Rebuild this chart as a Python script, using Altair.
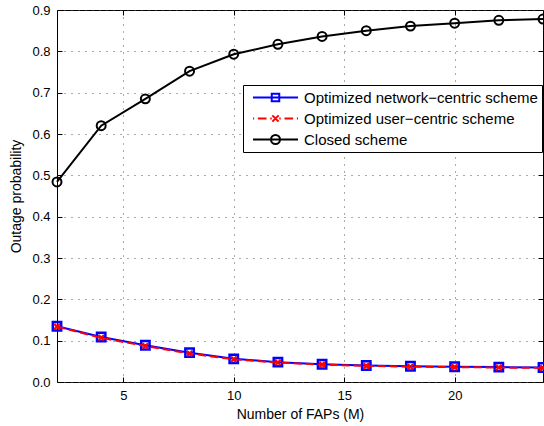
import altair as alt
import pandas as pd

x_vals = [2, 4, 6, 8, 10, 12, 14, 16, 18, 20, 22, 24]
network_centric = [0.135, 0.109, 0.089, 0.071, 0.056, 0.048, 0.043, 0.040, 0.038, 0.037, 0.036, 0.035]
user_centric = [0.134, 0.107, 0.087, 0.069, 0.055, 0.047, 0.042, 0.039, 0.037, 0.036, 0.035, 0.034]
closed = [0.484, 0.620, 0.685, 0.752, 0.793, 0.817, 0.836, 0.850, 0.861, 0.868, 0.875, 0.878]

series_names = ["Optimized network\u2212centric scheme",
                "Optimized user\u2212centric scheme",
                "Closed scheme"]
series_colors = ["#0000ff", "#ff0000", "#000000"]
x_ticks = [5, 10, 15, 20]
y_ticks = [0, 0.1, 0.2, 0.3, 0.4, 0.5, 0.6, 0.7, 0.8, 0.9]

df = pd.DataFrame({
    "M": x_vals * 3,
    "p": network_centric + user_centric + closed,
    "series": [series_names[0]] * len(x_vals) + [series_names[1]] * len(x_vals) + [series_names[2]] * len(x_vals),
})

FONT = "Liberation Sans"
W, H = 486, 372

xscale = alt.Scale(domain=[2, 24], nice=False, zero=False)
yscale = alt.Scale(domain=[0, 0.9], nice=False)

xenc = alt.X("M:Q", scale=xscale,
             axis=alt.Axis(values=x_ticks, title="Number of FAPs (M)", grid=True,
                           tickSize=0, labelPadding=7, titlePadding=5,
                           labelFontSize=13, titleFontSize=14, labelFont=FONT, titleFont=FONT,
                           labelColor="#000", titleColor="#000", titleFontWeight="normal",
                           domain=False, labelFlush=False))
yenc = alt.Y("p:Q", scale=yscale,
             axis=alt.Axis(values=y_ticks, title="Outage probability", grid=True,
                           tickSize=0, labelPadding=7, titlePadding=8,
                           labelFontSize=13, titleFontSize=14, labelFont=FONT, titleFont=FONT,
                           labelColor="#000", titleColor="#000", titleFontWeight="normal",
                           domain=False, labelFlush=False))
xnone = alt.X("M:Q", scale=xscale, axis=None)
ynone = alt.Y("p:Q", scale=yscale, axis=None)


def tick_axis(values, orient, offset):
    return alt.Axis(values=values, orient=orient, offset=offset, labels=False, grid=False,
                    domain=False, ticks=True, tickSize=5, tickColor="#000", tickWidth=1,
                    title=None)


base = alt.Chart(df)

closed_line = base.transform_filter(alt.datum.series == series_names[2]).mark_line(
    color="#000000", strokeWidth=2,
    point=alt.OverlayMarkDef(shape="circle", filled=False, size=80, stroke="#000000",
                             strokeWidth=2, opacity=1)
).encode(x=xenc, y=yenc)

net_line = base.transform_filter(alt.datum.series == series_names[0]).mark_line(
    color="#0000ff", strokeWidth=2,
    point=alt.OverlayMarkDef(shape="square", filled=False, size=70, stroke="#0000ff",
                             strokeWidth=2.5, opacity=1)
).encode(x=xnone, y=ynone)

user_line = base.transform_filter(alt.datum.series == series_names[1]).mark_line(
    color="#ff0000", strokeWidth=2, strokeDash=[8, 4],
    point=alt.OverlayMarkDef(shape="M-1,-1L1,1M-1,1L1,-1", filled=False, size=30, stroke="#ff0000",
                             strokeWidth=2.2, opacity=1)
).encode(x=xnone, y=ynone)

# inward tick marks on all four sides (MATLAB style)
ticks_a = base.transform_filter("false").mark_point(opacity=0).encode(
    x=alt.X("M:Q", scale=xscale, axis=tick_axis(x_ticks, "top", -H)),
    y=alt.Y("p:Q", scale=yscale, axis=tick_axis(y_ticks, "right", -W)),
)
ticks_b = base.transform_filter("false").mark_point(opacity=0).encode(
    x=alt.X("M:Q", scale=xscale, axis=tick_axis(x_ticks, "bottom", -H)),
    y=alt.Y("p:Q", scale=yscale, axis=tick_axis(y_ticks, "left", -W)),
)

legend_paths = [
    "M-3,0H3M-0.5,-0.5H0.5V0.5H-0.5Z",
    "M-3,0H-2.85M-2.35,0H-1.2M-0.7,0H-0.5M-0.42,-0.42L0.42,0.42M-0.42,0.42L0.42,-0.42M0.5,0H0.7M1.2,0H2.35M2.85,0H3",
    "M-3,0H3M0.6,0A0.6,0.6 0 1,1 -0.6,0A0.6,0.6 0 1,1 0.6,0",
]

legend_layer = base.transform_filter("false").mark_point(filled=False, strokeWidth=2, opacity=1).encode(
    color=alt.Color("series:N", scale=alt.Scale(domain=series_names, range=series_colors),
                    legend=alt.Legend(title=None, orient="none", legendX=186, legendY=75,
                                      strokeColor="#000", fillColor="white", padding=4,
                                      symbolSize=225, symbolStrokeWidth=2, symbolOffset=20,
                                      symbolOpacity=1,
                                      labelOffset=20, rowPadding=4, labelFontSize=15,
                                      labelFont=FONT, labelColor="#000", labelLimit=400)),
    shape=alt.Shape("series:N", scale=alt.Scale(domain=series_names, range=legend_paths), legend=None),
)

chart = alt.layer(closed_line, net_line, user_line, ticks_a, ticks_b, legend_layer).resolve_axis(
    x="independent", y="independent"
).properties(
    width=W, height=H,
    padding={"left": 57, "top": 10, "right": 1, "bottom": 44},
    autosize=alt.AutoSizeParams(type="none"),
).configure_view(stroke="#000", strokeWidth=1).configure_axis(
    gridColor="#555", gridDash=[1, 6], gridOpacity=1, gridWidth=1
).configure_legend(symbolStrokeWidth=2)

chart.save("out.html", embed_options={"renderer": "svg", "actions": False})
